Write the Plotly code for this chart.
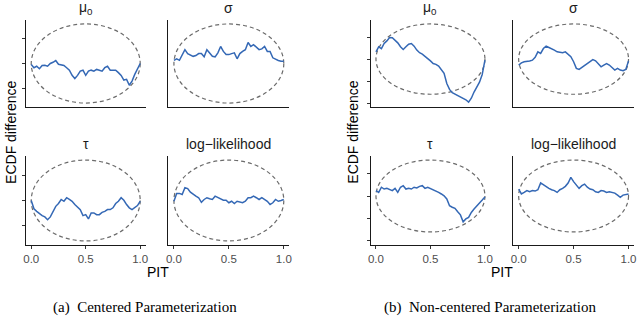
import plotly.graph_objects as go

# ---------------- data ----------------
PIT = [0.0, 0.025, 0.05, 0.075, 0.1, 0.125, 0.15, 0.175, 0.2, 0.225,
       0.25, 0.275, 0.3, 0.325, 0.35, 0.375, 0.4, 0.425, 0.45, 0.475,
       0.5, 0.525, 0.55, 0.575, 0.6, 0.625, 0.65, 0.675, 0.7, 0.725,
       0.75, 0.775, 0.8, 0.825, 0.85, 0.875, 0.9, 0.925, 0.95, 0.975, 1.0]

# (a) Centered parameterization
A_mu0 = [-0.04, -0.17, -0.11, -0.21, -0.08, -0.07, -0.11, 0.0, 0.05, 0.12,
         -0.03, -0.04, -0.08, -0.17, -0.27, -0.48, -0.61, -0.48, -0.31, -0.27,
         -0.48, -0.31, -0.27, -0.31, -0.24, -0.27, -0.31, -0.17, -0.11, -0.27,
         -0.27, -0.27, -0.37, -0.48, -0.67, -0.64, -0.88, -0.71, -0.44, -0.24, 0.0]
A_sigma = [0.13, 0.19, 0.13, 0.32, 0.56, 0.40, 0.36, 0.29, 0.32, 0.40,
           0.40, 0.27, 0.56, 0.40, 0.29, 0.27, 0.43, 0.69, 0.49, 0.36,
           0.36, 0.40, 0.43, 0.19, 0.40, 0.49, 0.56, 0.85, 0.69, 0.76,
           0.65, 0.56, 0.59, 0.69, 0.49, 0.49, 0.23, 0.16, 0.12, 0.09, 0.09]
A_tau = [0.0, -0.33, -0.43, -0.52, -0.60, -0.65, -0.76, -0.65, -0.43, -0.23,
         -0.12, 0.04, -0.03, 0.11, 0.04, -0.03, -0.16, -0.25, -0.36, -0.60,
         -0.56, -0.73, -0.49, -0.49, -0.56, -0.56, -0.47, -0.43, -0.36, -0.36,
         -0.29, -0.12, -0.03, 0.11, 0.01, -0.16, -0.29, -0.36, -0.29, -0.20, -0.03]
A_loglik = [-0.03, 0.28, 0.28, 0.24, 0.51, 0.47, 0.33, 0.24, 0.17, 0.11,
            -0.07, 0.04, 0.11, 0.07, 0.04, 0.17, 0.11, 0.04, 0.01, 0.01,
            -0.09, -0.03, -0.12, -0.03, -0.07, -0.09, -0.03, 0.11, 0.11, 0.17,
            0.11, 0.04, 0.11, 0.04, -0.03, -0.16, -0.09, 0.04, -0.03, 0.0, 0.04]

# (b) Non-centered parameterization
B_mu0 = [0.33, 0.56, 0.48, 0.71, 0.83, 0.98, 0.97, 0.86, 0.74, 0.56,
         0.44, 0.56, 0.68, 0.71, 0.59, 0.41, 0.29, 0.23, 0.14, 0.03,
         -0.08, -0.20, -0.24, -0.32, -0.47, -0.65, -1.11, -1.38, -1.53, -1.59,
         -1.65, -1.71, -1.77, -1.85, -1.96, -1.78, -1.50, -1.30, -1.05, -0.70, -0.05]
B_sigma = [-0.27, -0.17, -0.12, -0.12, -0.09, -0.05, 0.08, 0.33, 0.26, 0.48,
           0.59, 0.53, 0.48, 0.41, 0.33, 0.30, 0.29, 0.33, 0.23, 0.11,
           -0.12, -0.42, -0.47, -0.38, -0.27, -0.20, -0.08, -0.02, -0.08, -0.20,
           -0.35, -0.27, -0.20, -0.27, -0.38, -0.50, -0.42, -0.50, -0.53, -0.47, -0.08]
B_tau = [0.24, 0.16, 0.39, 0.31, 0.34, 0.28, 0.24, 0.34, 0.16, 0.39,
         0.46, 0.31, 0.34, 0.31, 0.39, 0.36, 0.43, 0.46, 0.34, 0.39,
         0.34, 0.28, 0.24, 0.16, 0.09, 0.01, -0.13, -0.43, -0.50, -0.55,
         -0.70, -0.84, -1.15, -1.02, -0.95, -0.73, -0.58, -0.43, -0.31, -0.18, -0.04]
B_loglik = [0.31, 0.09, 0.16, 0.24, 0.19, 0.24, 0.22, 0.28, 0.58, 0.49,
            0.39, 0.34, 0.28, 0.24, 0.16, 0.28, 0.34, 0.43, 0.58, 0.83,
            0.64, 0.49, 0.34, 0.46, 0.53, 0.39, 0.31, 0.28, 0.19, 0.16,
            0.24, 0.22, 0.16, 0.19, 0.16, 0.13, 0.04, -0.06, 0.04, 0.07, 0.09]

PANEL_TITLES = ["μ<sub>0</sub>", "σ", "τ", "log−likelihood"]
X_TICKS = [0.0, 0.5, 1.0]
X_TICKTEXT = ["0.0", "0.5", "1.0"]
A_YTICKS = [-1, 0, 1]
B_YTICKS = [-2, -1, 0, 1]
BAND_HALF = 1.6          # half-height of the dashed reference ellipse
A_YRANGE = [-1.76, 1.76]
B_YRANGE = [-2.18, 1.78]
X_RANGE = [-0.05, 1.05]
CAPTIONS = ["(a)  Centered Parameterization", "(b)  Non-centered Parameterization"]

# ---------------- layout geometry ----------------
W, H = 640, 316
cols_px = [(23, 144), (167, 289), (371, 492), (515, 637)]
rows_px = [(20, 107), (156, 245)]

def xd(a, b):
    return [a / W, b / W]

def yd(top, bot):
    return [1 - bot / H, 1 - top / H]

BLUE = "#3468B5"
fig = go.Figure()

groups = [
    ("A", [A_mu0, A_sigma, A_tau, A_loglik], A_YTICKS, A_YRANGE, 0),
    ("B", [B_mu0, B_sigma, B_tau, B_loglik], B_YTICKS, B_YRANGE, 2),
]

layout_axes = {}
annotations = []
shapes = []
idx = 0
for gname, series, yticks, yrange, c0 in groups:
    for p in range(4):
        idx += 1
        r, c = divmod(p, 2)
        xcol = cols_px[c0 + c]
        yrow = rows_px[r]
        xa = "x" if idx == 1 else f"x{idx}"
        ya = "y" if idx == 1 else f"y{idx}"
        xkey = "xaxis" if idx == 1 else f"xaxis{idx}"
        ykey = "yaxis" if idx == 1 else f"yaxis{idx}"
        bottom = (r == 1)
        left = (c == 0)
        layout_axes[xkey] = dict(
            domain=xd(*xcol), anchor=ya, range=X_RANGE,
            showline=True, linecolor="#1a1a1a", linewidth=1,
            showgrid=False, zeroline=False,
            ticks="outside" if bottom else "", ticklen=3, tickcolor="#333333",
            tickvals=X_TICKS, ticktext=X_TICKTEXT,
            showticklabels=bottom,
            tickfont=dict(family="Liberation Sans, Arial", size=11.5, color="#4D4D4D"),
        )
        layout_axes[ykey] = dict(
            domain=yd(*yrow), anchor=xa, range=yrange,
            showline=True, linecolor="#1a1a1a", linewidth=1,
            showgrid=False, zeroline=False,
            ticks="outside" if left else "", ticklen=3, tickcolor="#333333",
            tickvals=yticks, showticklabels=False,
        )
        # dashed reference ellipse in data coordinates
        shapes.append(dict(
            type="circle", xref=xa, yref=ya,
            x0=0, x1=1, y0=-BAND_HALF, y1=BAND_HALF,
            line=dict(color="#6b6b6b", width=1.2, dash="4px,3px"),
            layer="below",
        ))
        fig.add_trace(go.Scatter(
            x=PIT, y=series[p], mode="lines", xaxis=xa, yaxis=ya,
            line=dict(color=BLUE, width=1.5), showlegend=False, hoverinfo="skip",
        ))
        # panel title
        annotations.append(dict(
            text=PANEL_TITLES[p], xref="paper", yref="paper",
            x=(xcol[0] + xcol[1]) / 2 / W, y=1 - (yrow[0] - 12) / H,
            showarrow=False, xanchor="center", yanchor="middle",
            font=dict(family="Liberation Sans, Arial", size=14, color="#1a1a1a"),
        ))

# axis titles and captions
for gi, (c0, yx) in enumerate([(0, 8), (2, 353)]):
    xl = cols_px[c0][0]
    xr = cols_px[c0 + 1][1]
    annotations.append(dict(
        text="ECDF difference", xref="paper", yref="paper",
        x=yx / W, y=1 - 132 / H, textangle=-90, showarrow=False,
        xanchor="center", yanchor="middle",
        font=dict(family="Liberation Sans, Arial", size=14, color="#000000"),
    ))
    annotations.append(dict(
        text="PIT", xref="paper", yref="paper",
        x=(xl + xr) / 2 / W, y=1 - 272 / H, showarrow=False,
        xanchor="center", yanchor="middle",
        font=dict(family="Liberation Sans, Arial", size=14, color="#000000"),
    ))
capx = [143, 492]
for gi in range(2):
    annotations.append(dict(
        text=CAPTIONS[gi], xref="paper", yref="paper",
        x=capx[gi] / W, y=1 - 307 / H, showarrow=False,
        xanchor="center", yanchor="middle",
        font=dict(family="Liberation Serif, Times New Roman", size=15, color="#000000"),
    ))

fig.update_layout(
    width=W, height=H, autosize=False,
    margin=dict(l=0, r=0, t=0, b=0),
    paper_bgcolor="white", plot_bgcolor="white",
    annotations=annotations, shapes=shapes,
    **layout_axes,
)

fig.write_html(
    "out.html",
    config={"displayModeBar": False},
    post_script="document.body.style.margin='0';document.body.style.overflow='hidden';",
)
